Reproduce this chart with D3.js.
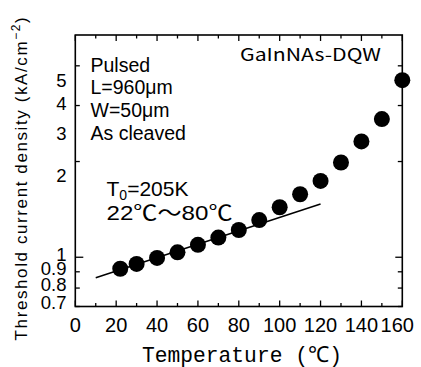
<!DOCTYPE html>
<html>
<head>
<meta charset="utf-8">
<script src="https://cdn.jsdelivr.net/npm/d3@7"></script>
<style>
  body { margin: 0; background: #fff; }
  svg { display: block; }
  text { fill: #000; }
</style>
</head>
<body>
<script>
// measured values (threshold current density vs temperature)
var temps = [22, 30, 40, 50, 60, 70, 80, 90, 100, 110, 120, 130, 140, 150, 160];
var jth = [0.920, 0.953, 0.995, 1.036, 1.094, 1.153, 1.218, 1.309, 1.436, 1.578, 1.738, 1.986, 2.314, 2.719, 3.604];

// T0 fit line end points
var fitT = [10, 120];
var fitJ = [0.862, 1.470];

// axis ticks
var xTicksMajor = [0, 20, 40, 60, 80, 100, 120, 140, 160];
var xTicksMinor = [10, 30, 50, 70, 90, 110, 130, 150];
var yTicks = [0.7, 0.8, 0.9, 1, 2, 3, 4];
var yLabels = ["0.7", "0.8", "0.9", "1", "2", "3", "4", "5"];
var yLabelVals = [0.7, 0.8, 0.9, 1, 2, 3, 4, 5];

var notes = ["Pulsed", "L=960\u03bcm", "W=50\u03bcm", "As cleaved"];

var svgWidth = 421, svgHeight = 367;
var svg = d3.select("body").append("svg").attr("width", svgWidth).attr("height", svgHeight);

var xScale = d3.scaleLinear().domain([0, 160]).range([75.3, 402.3]);
var yScale = d3.scaleLog().domain([0.7, 5]).range([306.5, 35]);
// the printed labels above 1 sit on a squeezed scale in the original figure
var yLabelScale = d3.scaleLinear().domain([0.7, 1, 2, 5].map(Math.log10)).range([302.5, 254, 175, 80]);

var x0 = xScale.range()[0], x1 = xScale.range()[1];
var y0 = yScale.range()[0], y1 = yScale.range()[1];

// frame
svg.append("rect")
    .attr("x", x0).attr("y", y1)
    .attr("width", x1 - x0).attr("height", y0 - y1)
    .attr("fill", "none").attr("stroke", "#000").attr("stroke-width", 1.6);

// x ticks, bottom and top, pointing inward
function xTick(list, len) {
  svg.selectAll(null).data(list).enter().append("line")
      .attr("x1", xScale).attr("x2", xScale)
      .attr("y1", y0).attr("y2", y0 - len)
      .attr("stroke", "#000").attr("stroke-width", 1.3);
  svg.selectAll(null).data(list).enter().append("line")
      .attr("x1", xScale).attr("x2", xScale)
      .attr("y1", y1).attr("y2", y1 + len)
      .attr("stroke", "#000").attr("stroke-width", 1.3);
}
xTick(xTicksMajor, 6);
xTick(xTicksMinor, 3.5);

// y ticks left and right
svg.selectAll(null).data(yTicks).enter().append("line")
    .attr("x1", x0).attr("x2", function(d) { return x0 + (d === 1 ? 8 : 4.5); })
    .attr("y1", yScale).attr("y2", yScale)
    .attr("stroke", "#000").attr("stroke-width", 1.3);
svg.selectAll(null).data(yTicks).enter().append("line")
    .attr("x1", x1).attr("x2", function(d) { return x1 - (d === 1 ? 7 : 4.5); })
    .attr("y1", yScale).attr("y2", yScale)
    .attr("stroke", "#000").attr("stroke-width", 1.3);

// x tick labels
svg.selectAll(null).data(xTicksMajor).enter().append("text")
    .attr("x", function(d) { return xScale(d) - (d === 160 ? 5 : 0); })
    .attr("y", 331.5)
    .attr("text-anchor", "middle")
    .attr("font-family", "'Liberation Sans', Arial, sans-serif")
    .attr("font-size", "20px")
    .text(function(d) { return d; });

// y tick labels
svg.selectAll(null).data(yLabelVals).enter().append("text")
    .attr("x", 66.5)
    .attr("y", function(d) { return yLabelScale(Math.log10(d)); })
    .attr("dy", "0.36em")
    .attr("text-anchor", "end")
    .attr("font-family", "'Liberation Sans', Arial, sans-serif")
    .attr("font-size", "18.5px")
    .text(function(d, i) { return yLabels[i]; });

// axis titles
svg.append("text")
    .attr("x", 142).attr("y", 361.5)
    .attr("font-family", "'Liberation Mono', 'DejaVu Sans Mono', monospace")
    .attr("font-size", "22px")
    .attr("textLength", 200).attr("lengthAdjust", "spacingAndGlyphs")
    .text("Temperature (\u2103)");

var yt = svg.append("text")
    .attr("transform", "translate(27,178) rotate(-90)")
    .attr("text-anchor", "middle")
    .attr("font-family", "'Liberation Sans', Arial, sans-serif")
    .attr("font-size", "17px")
    .attr("letter-spacing", "1.6px");
yt.append("tspan").text("Threshold current density (kA/cm");
yt.append("tspan").attr("dy", -7).attr("font-size", "12px").text("\u22122");
yt.append("tspan").attr("dy", 7).text(")");

// fit line
var line = d3.line()
    .x(function(d) { return xScale(d[0]); })
    .y(function(d) { return yScale(d[1]); });
svg.append("path")
    .datum(d3.zip(fitT, fitJ))
    .attr("d", line)
    .attr("fill", "none").attr("stroke", "#000").attr("stroke-width", 1.5);

// data points
svg.selectAll(".dot").data(d3.zip(temps, jth)).enter().append("circle")
    .attr("class", "dot")
    .attr("cx", function(d) { return xScale(d[0]); })
    .attr("cy", function(d) { return yScale(d[1]); })
    .attr("r", 8)
    .attr("fill", "#000");

// annotations
svg.selectAll(null).data(notes).enter().append("text")
    .attr("x", 90.5)
    .attr("y", function(d, i) { return 71.5 + i * 22.8; })
    .attr("font-family", "'Liberation Sans', Arial, sans-serif")
    .attr("font-size", "19.5px")
    .text(function(d) { return d; });

svg.append("text")
    .attr("x", 240).attr("y", 60.5)
    .attr("font-family", "'Noto Sans CJK JP', sans-serif")
    .attr("font-size", "17px")
    .attr("textLength", 141).attr("lengthAdjust", "spacingAndGlyphs")
    .text("GaInNAs-DQW");

var t0 = svg.append("text")
    .attr("x", 106.5).attr("y", 195.5)
    .attr("font-family", "'Liberation Sans', Arial, sans-serif")
    .attr("font-size", "21px");
t0.append("tspan").text("T");
t0.append("tspan").attr("dy", 4).attr("font-size", "14px").text("0");
t0.append("tspan").attr("dy", -4).text("=205K");

svg.append("text")
    .attr("x", 106.5).attr("y", 220)
    .attr("font-family", "'Liberation Sans', 'Noto Sans CJK JP', sans-serif")
    .attr("font-size", "21px")
    .attr("textLength", 126).attr("lengthAdjust", "spacingAndGlyphs")
    .text("22\u2103\u301c80\u2103");
</script>
</body>
</html>
